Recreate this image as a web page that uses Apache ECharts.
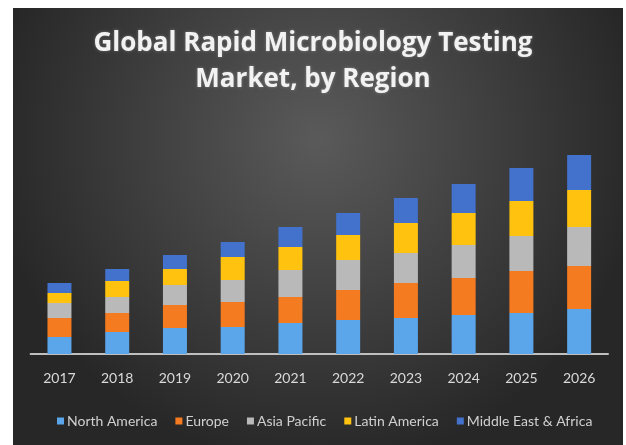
<!DOCTYPE html>
<html>
<head>
<meta charset="utf-8">
<script src="https://cdn.jsdelivr.net/npm/echarts@6/dist/echarts.min.js"></script>
<style>
html,body{margin:0;padding:0;background:#ffffff;}
#chart{width:626px;height:445px;}
</style>
</head>
<body>
<div id="chart"></div>
<script>
var years = ['2017','2018','2019','2020','2021','2022','2023','2024','2025','2026'];
var northAmerica = [17, 22, 26, 27, 31, 34, 36, 39, 41, 45];
var europe       = [19, 19, 23, 25, 26, 30, 35, 37, 42, 43];
var asiaPacific  = [15, 16, 20, 22, 27, 30, 30, 33, 35, 39];
var latinAmerica = [10, 16, 16, 23, 23, 25, 30, 32, 35, 37];
var middleEast   = [10, 12, 14, 15, 20, 22, 25, 29, 33, 35];
var seriesNames = ['North America','Europe','Asia Pacific','Latin America','Middle East & Africa'];
var seriesColors = ['#5ba6ea','#f47b20','#b9b9b9','#ffc20e','#4272cc'];

var chart = echarts.init(document.getElementById('chart'));
var dataSets = [northAmerica, europe, asiaPacific, latinAmerica, middleEast];
var series = dataSets.map(function(d, i){
  return {
    name: seriesNames[i],
    type: 'bar',
    stack: 'total',
    barWidth: 24,
    data: d,
    itemStyle: { color: seriesColors[i] },
    emphasis: { disabled: true }
  };
});
chart.setOption({
  animation: false,
  backgroundColor: '#ffffff',
  graphic: [{
    type: 'rect',
    z: -10,
    shape: { x: 13, y: 8, width: 610, height: 437 },
    style: {
      fill: {
        type: 'radial', x: 0.5, y: 0.3, r: 0.75,
        colorStops: [
          { offset: 0, color: '#5a5a5a' },
          { offset: 1, color: '#272727' }
        ]
      }
    },
    silent: true
  }],
  title: {
    text: 'Global Rapid Microbiology Testing\nMarket, by Region',
    left: 'center',
    top: 21,
    textStyle: {
      color: '#f2f2f2',
      fontFamily: 'Open Sans',
      fontWeight: 'bold',
      fontSize: 26,
      lineHeight: 36,
      textShadowColor: 'rgba(255,255,255,0.3)',
      textShadowBlur: 3
    }
  },
  legend: {
    top: 409,
    left: 52,
    itemWidth: 7,
    itemHeight: 7,
    itemGap: 18,
    icon: 'rect',
    textStyle: { color: '#d0d0d0', fontSize: 14, fontFamily: 'Lato', padding: [0,0,0,-2] },
    data: seriesNames
  },
  grid: { left: 30.6, right: 18, top: 154, bottom: 91, containLabel: false },
  xAxis: {
    type: 'category',
    data: years,
    axisLine: { lineStyle: { color: '#bfbfbf', width: 2 } },
    axisTick: { show: false },
    axisLabel: { color: '#d9d9d9', fontSize: 14, fontFamily: 'Lato', margin: 17 }
  },
  yAxis: {
    type: 'value',
    min: 0,
    max: 200,
    show: false,
    splitLine: { show: false }
  },
  series: series
});
</script>
</body>
</html>
